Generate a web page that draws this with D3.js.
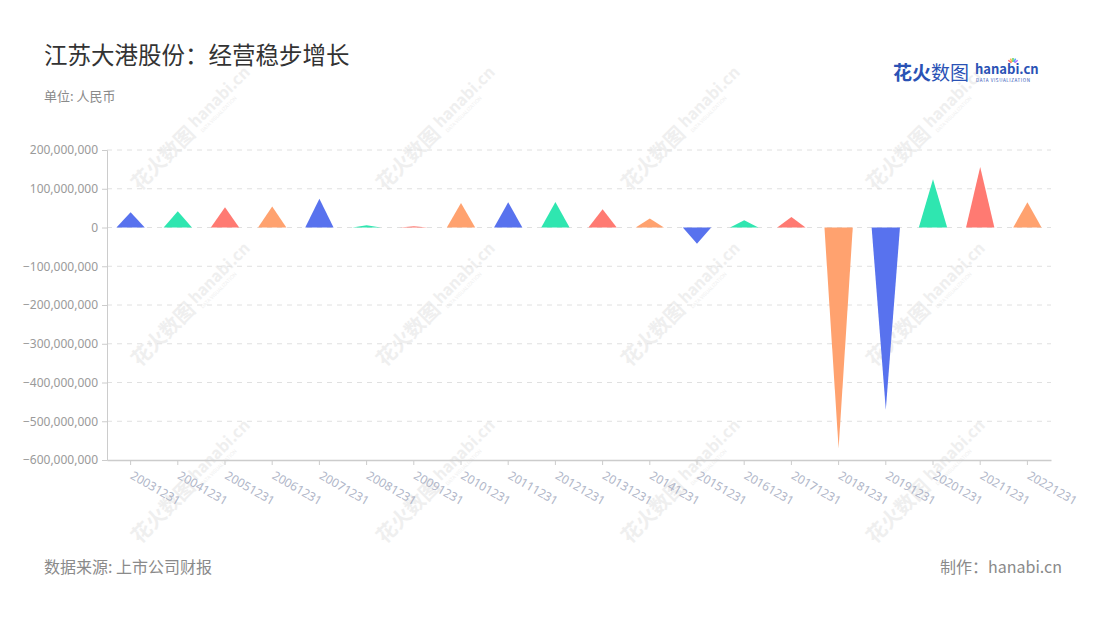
<!DOCTYPE html>
<html><head><meta charset="utf-8">
<script src="https://cdn.jsdelivr.net/npm/d3@7"></script>
<style>
body{margin:0;background:#fff;}
svg{display:block;font-family:"Noto Sans CJK SC","Noto Sans",sans-serif;}
</style></head>
<body>
<svg id="chart" width="1100" height="620"></svg>
<script>
const categories = ["20031231","20041231","20051231","20061231","20071231","20081231","20091231","20101231","20111231","20121231","20131231","20141231","20151231","20161231","20171231","20181231","20191231","20201231","20211231","20221231"];
const values = [39500000,42000000,52000000,54000000,74000000,6000000,3500000,63500000,65000000,66000000,47000000,23000000,-42000000,19000000,27000000,-570000000,-470000000,124500000,156000000,65000000];
const yTicks = [-600000000,-500000000,-400000000,-300000000,-200000000,-100000000,0,100000000,200000000];
const palette = ["#5872ee","#2fe6b0","#ff7a72","#ffa26f"];

(function(){
const svg = d3.select("#chart");
const pl = 107, pr = 1051, pt = 150, pb = 460;

// watermarks
const wm = svg.append("g");
const wmCols = [178, 423, 668, 913];
const wmRows = [142, 318, 495];
wmRows.forEach(r => wmCols.forEach(c => {
  const g = wm.append("g").attr("transform", `translate(${c},${r}) rotate(-45)`);
  g.append("text").attr("x",-62).attr("y",8).attr("font-size",20).attr("font-weight",700)
    .attr("fill","#efefef").text("花火数图");
  g.append("text").attr("x",22).attr("y",3).attr("font-size",16).attr("font-weight",700)
    .attr("fill","#efefef").text("hanabi.cn");
  g.append("text").attr("x",24).attr("y",11).attr("font-size",5)
    .attr("fill","#efefef").text("DATA VISUALIZATION");
}));

// title
svg.append("text").attr("x",44).attr("y",64).attr("font-size",23.5).attr("fill","#333").text("江苏大港股份：经营稳步增长");
svg.append("text").attr("x",44).attr("y",101).attr("font-size",13).attr("fill","#8a8a8a").text("单位: 人民币");

// logo
svg.append("text").attr("x",893).attr("y",80).attr("font-size",19).attr("font-weight",700).attr("fill","#2a52b5").text("花火");
svg.append("text").attr("x",931).attr("y",80).attr("font-size",19).attr("fill","#2a52b5").text("数图");
svg.append("text").attr("x",975).attr("y",74).attr("font-size",13).attr("font-weight",700).attr("fill","#2a52b5").text("hanabi.cn");
svg.append("text").attr("x",976).attr("y",82).attr("font-size",4.5).attr("fill","#2a52b5").attr("letter-spacing",0.6).text("DATA VISUALIZATION");
const sparks = ["#ff6b6b","#ffb44d","#5fd35f","#4da6ff","#b06bff"];
sparks.forEach((c,i)=>{ const a = -Math.PI/2 + (i-2)*0.45;
  svg.append("line").attr("x1",1013+Math.cos(a)*2).attr("y1",64+Math.sin(a)*2).attr("x2",1013+Math.cos(a)*6).attr("y2",64+Math.sin(a)*6).attr("stroke",c).attr("stroke-width",1.5);});

// scales
const x = d3.scaleBand().domain(categories).range([pl,pr]).padding(0);
const y = d3.scaleLinear().domain([-600000000,200000000]).range([pb,pt]);

// grid
svg.append("g").selectAll("line").data(yTicks.filter(t=>t>-600000000)).join("line")
  .attr("x1",pl).attr("x2",pr).attr("y1",d=>y(d)).attr("y2",d=>y(d))
  .attr("stroke","#e0e0e0").attr("stroke-dasharray","5,5");

// y axis
const yAxis = svg.append("g").attr("transform",`translate(${pl},0)`)
  .call(d3.axisLeft(y).tickValues(yTicks).tickFormat(d3.format(",")).tickSize(5).tickPadding(4));
yAxis.select(".domain").attr("stroke","#cccccc");
yAxis.selectAll(".tick line").attr("stroke","#cccccc");
yAxis.selectAll(".tick text").attr("fill","#9a9a9a").attr("font-size",12).attr("font-family","Noto Sans, sans-serif");

// x axis
const xAxis = svg.append("g").attr("transform",`translate(0,${pb})`)
  .call(d3.axisBottom(x).tickSize(5).tickSizeOuter(0).tickPadding(6));
xAxis.select(".domain").attr("stroke","#cccccc").attr("stroke-width",1.5);
xAxis.selectAll(".tick line").attr("stroke","#cccccc");
xAxis.selectAll(".tick text").attr("fill","#b0b6c8").attr("font-size",12)
  .attr("font-family","Noto Sans, sans-serif")
  .attr("text-anchor","start").attr("y",0).attr("dy",0)
  .attr("transform","translate(-1,18) rotate(30)");

// triangles
const bw = x.bandwidth()*0.6;
svg.append("g").selectAll("path").data(values).join("path")
  .attr("d",(v,i)=>{
    const cx = x(categories[i]) + x.bandwidth()/2;
    return `M${cx-bw/2},${y(0)}L${cx+bw/2},${y(0)}L${cx},${y(v)}Z`;
  })
  .attr("fill",(v,i)=>palette[i%4]);

// footer
svg.append("text").attr("x",44).attr("y",573).attr("font-size",16).attr("fill","#8a8a8a").text("数据来源: 上市公司财报");
svg.append("text").attr("x",1062).attr("y",573).attr("text-anchor","end").attr("font-size",16).attr("fill","#8a8a8a").text("制作：hanabi.cn");
})();
</script>
</body></html>
